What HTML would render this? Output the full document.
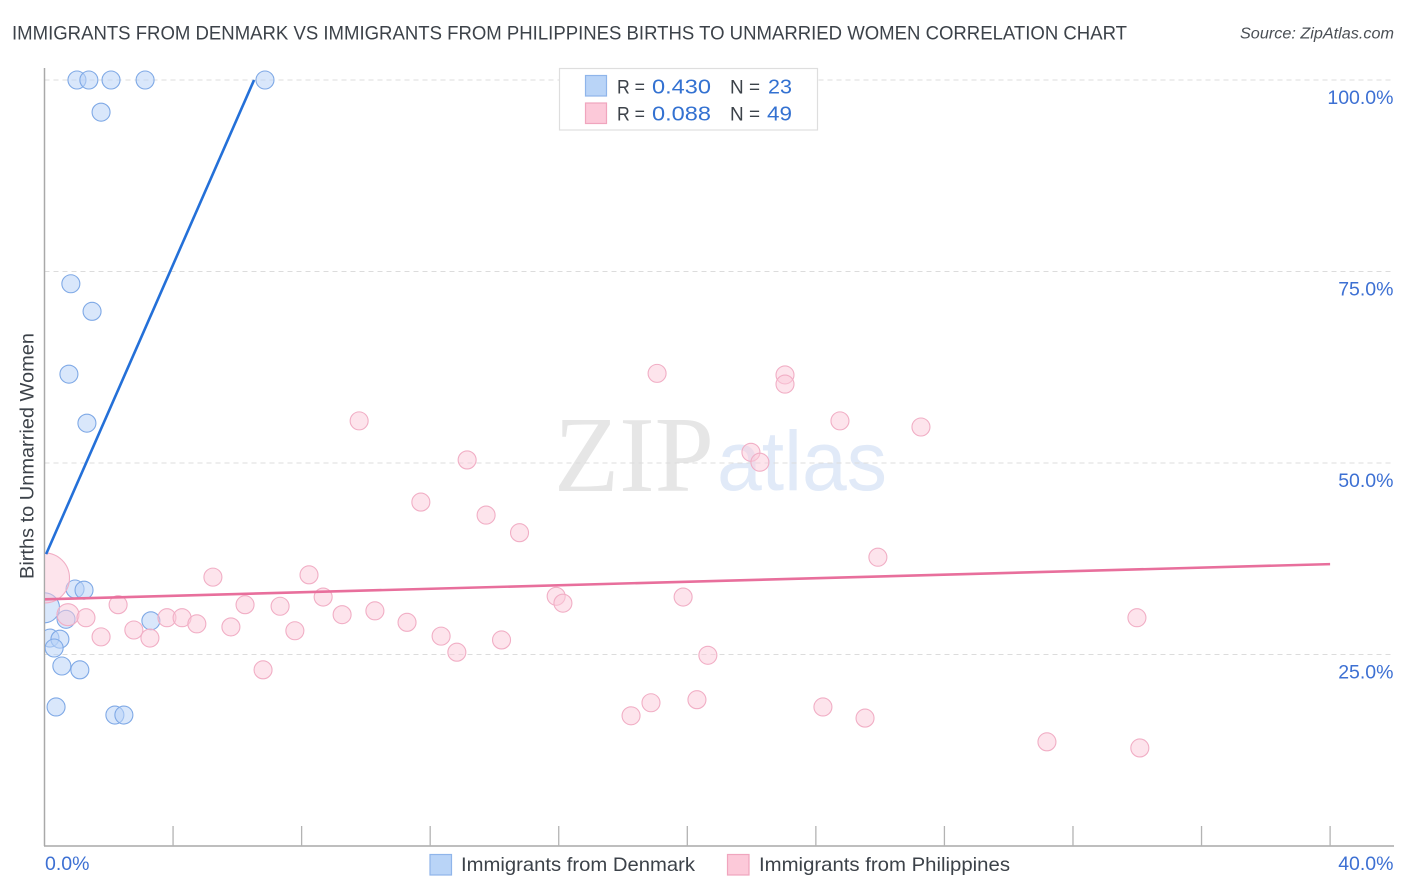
<!DOCTYPE html>
<html lang="en">
<head>
<meta charset="utf-8">
<title>Immigrants from Denmark vs Immigrants from Philippines Births to Unmarried Women Correlation Chart</title>
<style>
html,body{margin:0;padding:0;background:#fff;}
svg{display:block;font-family:"Liberation Sans",sans-serif;}
</style>
</head>
<body>
<svg id="chart" xmlns="http://www.w3.org/2000/svg" width="1406" height="892" viewBox="0 0 1406 892">
  <defs><clipPath id="plot-clip"><rect x="45" y="60" width="1350" height="786"/></clipPath></defs>
  <rect width="1406" height="892" fill="#fff"/>
  <text x="12" y="39.5" font-size="19.5" fill="#3c4249" textLength="1115" lengthAdjust="spacingAndGlyphs">IMMIGRANTS FROM DENMARK VS IMMIGRANTS FROM PHILIPPINES BIRTHS TO UNMARRIED WOMEN CORRELATION CHART</text>
  <text x="1394" y="38.5" font-size="15.5" font-style="italic" fill="#4a4f55" text-anchor="end" textLength="154" lengthAdjust="spacingAndGlyphs">Source: ZipAtlas.com</text>
  <g>
    <text x="554" y="491" font-family="'Liberation Serif',serif" font-size="108" fill="#e6e6e6" textLength="160" lengthAdjust="spacingAndGlyphs">ZIP</text>
    <text x="717" y="490" font-size="84" fill="#e1eaf8" textLength="170" lengthAdjust="spacingAndGlyphs">atlas</text>
  </g>
  <g id="grid"></g>
  <g id="axes"></g>
  <g id="marks" clip-path="url(#plot-clip)"></g>
  <g id="trends" clip-path="url(#plot-clip)"></g>
  <text transform="translate(33.5,456) rotate(-90)" font-size="19" fill="#3c4249" text-anchor="middle" textLength="246" lengthAdjust="spacingAndGlyphs">Births to Unmarried Women</text>

  <g>
    <rect x="559.5" y="68.5" width="258" height="61.5" fill="#fff" stroke="#dedede" stroke-width="1.2"/>
    <rect x="585.5" y="75.5" width="21" height="20.5" fill="#b9d4f7" stroke="#8fb5ea" stroke-width="1.2"/>
    <rect x="585.5" y="103" width="21" height="20.5" fill="#fcc9d9" stroke="#f0a5be" stroke-width="1.2"/>
    <g font-size="20.5">
      <text x="617" y="93.5" fill="#3c4249" font-size="19.5" textLength="28" lengthAdjust="spacingAndGlyphs">R =</text>
      <text x="652" y="93.5" fill="#3371d1" textLength="59" lengthAdjust="spacingAndGlyphs">0.430</text>
      <text x="730" y="93.5" fill="#3c4249" font-size="19.5" textLength="30" lengthAdjust="spacingAndGlyphs">N =</text>
      <text x="768" y="93.5" fill="#3371d1" textLength="24" lengthAdjust="spacingAndGlyphs">23</text>
      <text x="617" y="120.5" fill="#3c4249" font-size="19.5" textLength="28" lengthAdjust="spacingAndGlyphs">R =</text>
      <text x="652" y="120.5" fill="#3371d1" textLength="59" lengthAdjust="spacingAndGlyphs">0.088</text>
      <text x="730" y="120.5" fill="#3c4249" font-size="19.5" textLength="30" lengthAdjust="spacingAndGlyphs">N =</text>
      <text x="767" y="120.5" fill="#3371d1" textLength="25" lengthAdjust="spacingAndGlyphs">49</text>
    </g>
  </g>

  <g>
    <rect x="430" y="854.5" width="21.5" height="20.5" fill="#b9d4f7" stroke="#8fb5ea" stroke-width="1.2"/>
    <text x="461" y="871" font-size="19.5" fill="#3c4249" textLength="234" lengthAdjust="spacingAndGlyphs">Immigrants from Denmark</text>
    <rect x="727.5" y="854.5" width="21.5" height="20.5" fill="#fcc9d9" stroke="#f0a5be" stroke-width="1.2"/>
    <text x="759" y="871" font-size="19.5" fill="#3c4249" textLength="251" lengthAdjust="spacingAndGlyphs">Immigrants from Philippines</text>
  </g>
</svg>
<script>
var xTickValues = [0, 4, 8, 12, 16, 20, 24, 28, 32, 36, 40];
var yGridValues = [25, 50, 75, 100];
var yTickLabels = ["25.0%", "50.0%", "75.0%", "100.0%"];
var xEndLabels = ["0.0%", "40.0%"];

var denmarkX = [1.01, 1.38, 2.07, 3.13, 6.86, 1.76, 0.82, 1.48, 0.76, 1.32, 0.95, 1.23, 0.67, 3.31, 0.00, 0.17, 0.48, 0.30, 0.54, 1.10, 0.36, 2.19, 2.47];
var denmarkY = [100, 100, 100, 100, 100, 95.8, 73.4, 69.8, 61.6, 55.2, 33.55, 33.4, 29.6, 29.4, 31.1, 27.15, 27.0, 25.85, 23.5, 23.0, 18.15, 17.1, 17.1];
var denmarkSize = [9, 9, 9, 9, 9, 9, 9, 9, 9, 9, 9, 9, 9, 9, 15, 9, 9, 9, 9, 9, 9, 9, 9];

var philippinesX = [0.00, 0.73, 1.29, 1.76, 2.29, 2.78, 3.28, 3.81, 4.28, 4.74, 5.24, 5.80, 6.24, 6.80, 7.33, 7.79, 8.23, 8.67, 9.26, 9.79, 10.28, 11.28, 11.71, 12.34, 12.83, 13.15, 13.74, 14.22, 14.78, 15.92, 16.13, 18.25, 18.87, 19.06, 19.87, 20.30, 20.64, 21.98, 22.26, 23.04, 23.04, 24.22, 24.75, 25.53, 25.93, 27.27, 31.19, 33.99, 34.08];
var philippinesY = [35.0, 30.2, 29.8, 27.3, 31.5, 28.2, 27.15, 29.8, 29.8, 29.0, 35.1, 28.6, 31.5, 23.0, 31.3, 28.1, 35.4, 32.5, 30.2, 55.5, 30.7, 29.2, 44.9, 27.4, 25.3, 50.4, 43.2, 26.9, 40.9, 32.6, 31.7, 17.0, 18.7, 61.7, 32.5, 19.1, 24.9, 51.4, 50.1, 61.5, 60.3, 18.15, 55.5, 16.7, 37.7, 54.7, 13.6, 29.8, 12.8];
var philippinesSize = [25, 11, 9, 9, 9, 9, 9, 9, 9, 9, 9, 9, 9, 9, 9, 9, 9, 9, 9, 9, 9, 9, 9, 9, 9, 9, 9, 9, 9, 9, 9, 9, 9, 9, 9, 9, 9, 9, 9, 9, 9, 9, 9, 9, 9, 9, 9, 9, 9];

var denmarkTrendX = [0.05, 6.52];
var denmarkTrendY = [38.1, 100];
var philippinesTrendX = [0, 40];
var philippinesTrendY = [32.2, 36.8];

var NS = "http://www.w3.org/2000/svg";
function xScale(v) { return 44.5 + v * 32.14; }
function yScale(v) { return 846 - v * 7.66; }
function make(parent, tag, attrs, text) {
  var el = document.createElementNS(NS, tag);
  for (var k in attrs) el.setAttribute(k, attrs[k]);
  if (text !== undefined) el.textContent = text;
  parent.appendChild(el);
  return el;
}

var grid = document.getElementById("grid");
var axes = document.getElementById("axes");
var marks = document.getElementById("marks");
var trends = document.getElementById("trends");

yGridValues.forEach(function (v, i) {
  var line = make(grid, "line", {x1: 44.5, x2: 1393, y1: yScale(v), y2: yScale(v), stroke: "#dcdcdc", "stroke-width": 1, "stroke-dasharray": "5 4"});
  
  
  var label = make(axes, "text", {x: 1393.5, y: yScale(v) + 24, "font-size": 19.5, fill: "#3d70d3", "text-anchor": "end"}, yTickLabels[i]);
  
  
});

var yAxis = make(axes, "line", {x1: 44.5, x2: 44.5, y1: 68, y2: 846, stroke: "#a9a9a9", "stroke-width": 1.5});


var xAxis = make(axes, "line", {x1: 44, x2: 1394, y1: 846, y2: 846, stroke: "#a9a9a9", "stroke-width": 1.5});



xTickValues.slice(1).forEach(function (v) {
  var tick = make(axes, "line", {x1: xScale(v), x2: xScale(v), y1: 826, y2: 846, stroke: "#b3b3b3", "stroke-width": 1.3});
  
  
});

var xLabelLeft = make(axes, "text", {x: 45, y: 870, "font-size": 19.5, fill: "#3d70d3"}, xEndLabels[0]);


var xLabelRight = make(axes, "text", {x: 1393.5, y: 870, "font-size": 19.5, fill: "#3d70d3", "text-anchor": "end"}, xEndLabels[1]);



denmarkX.forEach(function (v, i) {
  var c = make(marks, "circle", {cx: xScale(v), cy: yScale(denmarkY[i]), r: denmarkSize[i], fill: "#b9d4f7", "fill-opacity": 0.55, stroke: "#7fa9e6", "stroke-width": 1.1});
  
  
});
philippinesX.forEach(function (v, i) {
  var c = make(marks, "circle", {cx: xScale(v), cy: yScale(philippinesY[i]), r: philippinesSize[i], fill: "#fcc9d9", "fill-opacity": 0.5, stroke: "#f1aec5", "stroke-width": 1.1});
  
  
});

var trendBlue = make(trends, "line", {x1: xScale(denmarkTrendX[0]), y1: yScale(denmarkTrendY[0]), x2: xScale(denmarkTrendX[1]), y2: yScale(denmarkTrendY[1]), stroke: "#2470d8", "stroke-width": 2.6});


var trendPink = make(trends, "line", {x1: xScale(philippinesTrendX[0]), y1: yScale(philippinesTrendY[0]), x2: xScale(philippinesTrendX[1]), y2: yScale(philippinesTrendY[1]), stroke: "#e86f9c", "stroke-width": 2.6});


</script>
</body>
</html>
